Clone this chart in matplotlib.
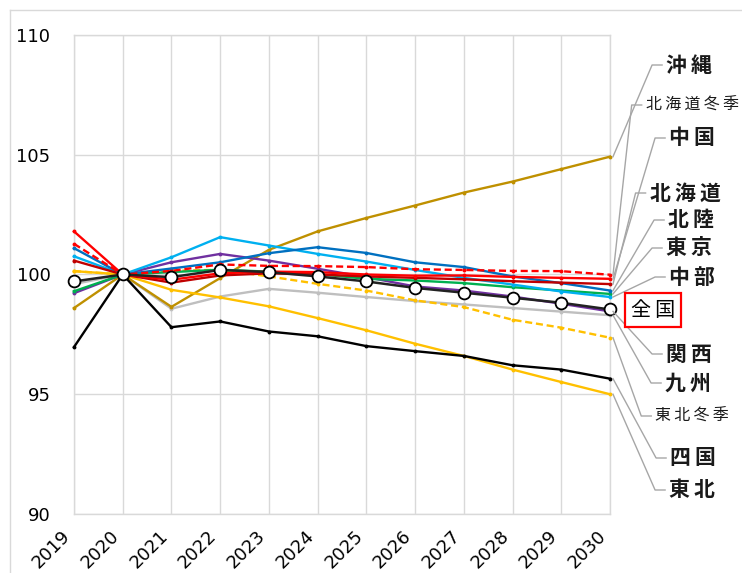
import matplotlib
matplotlib.use('Agg')
import matplotlib.pyplot as plt
from matplotlib.lines import Line2D

plt.rcParams['font.family'] = ['DejaVu Sans']

years = list(range(2019, 2031))

okinawa = [98.6, 100.0, 98.65, 99.85, 101.03, 101.8, 102.36, 102.88, 103.42, 103.88, 104.4, 104.92]
hokkaido_winter = [101.28, 100.0, 100.15, 100.42, 100.36, 100.35, 100.31, 100.22, 100.19, 100.15, 100.14, 99.99]
chugoku = [101.8, 100.0, 99.78, 100.05, 100.12, 100.1, 100.0, 99.95, 99.96, 99.9, 99.86, 99.82]
hokkaido = [100.58, 100.0, 99.66, 99.96, 100.05, 100.0, 99.92, 99.86, 99.8, 99.72, 99.66, 99.6]
hokuriku = [101.1, 100.0, 100.25, 100.51, 100.89, 101.14, 100.9, 100.51, 100.31, 99.92, 99.64, 99.33]
tokyo = [99.3, 100.0, 100.1, 100.2, 100.12, 100.02, 99.82, 99.75, 99.64, 99.47, 99.33, 99.19]
chubu = [100.76, 100.0, 100.72, 101.56, 101.21, 100.86, 100.54, 100.19, 99.86, 99.58, 99.29, 99.06]
zenkoku = [99.71, 100.0, 99.89, 100.19, 100.1, 99.92, 99.71, 99.44, 99.24, 99.03, 98.82, 98.54]
kansai = [99.22, 100.0, 100.51, 100.86, 100.58, 100.24, 99.89, 99.5, 99.33, 99.08, 98.78, 98.46]
kyushu = [99.6, 100.0, 98.57, 99.08, 99.4, 99.24, 99.06, 98.89, 98.75, 98.6, 98.45, 98.3]
tohoku_winter = [100.14, 100.0, 100.15, 100.2, 99.92, 99.61, 99.33, 98.92, 98.64, 98.11, 97.78, 97.36]
shikoku = [96.97, 100.0, 97.8, 98.04, 97.62, 97.42, 97.01, 96.8, 96.6, 96.21, 96.03, 95.65]
tohoku = [100.14, 100.0, 99.36, 99.04, 98.67, 98.18, 97.67, 97.11, 96.6, 96.03, 95.51, 95.0]

y_ticks = [90, 95, 100, 105, 110]

series = [
    ('九州', kyushu, '#BFBFBF', '-'),
    ('沖縄', okinawa, '#BF9000', '-'),
    ('東北', tohoku, '#FFC000', '-'),
    ('東北冬季', tohoku_winter, '#FFC000', '--'),
    ('四国', shikoku, '#000000', '-'),
    ('関西', kansai, '#7030A0', '-'),
    ('東京', tokyo, '#00B050', '-'),
    ('中部', chubu, '#00B0F0', '-'),
    ('北陸', hokuriku, '#0070C0', '-'),
    ('北海道', hokkaido, '#C00000', '-'),
    ('中国', chugoku, '#FF0000', '-'),
    ('北海道冬季', hokkaido_winter, '#FF0000', '--'),
]
data_by_name = {n: v for n, v, c, s in series}
data_by_name['全国'] = zenkoku

W, H = 742, 573
fig = plt.figure(figsize=(W / 100, H / 100), dpi=100)
L, R, T, B = 74, 610, 35, 514
ax = fig.add_axes([L / W, 1 - B / H, (R - L) / W, (B - T) / H])

for name, vals, col, ls in series:
    ax.plot(years, vals, color=col, ls=ls, lw=1.7, marker='o', markersize=2.8,
            markeredgewidth=0, clip_on=False, zorder=3,
            dashes=(3, 1.6) if ls == '--' else (None, None))
ax.plot(years, zenkoku, color='#222222', lw=1.8, marker='o', markersize=8.5,
        markerfacecolor='white', markeredgecolor='black', markeredgewidth=1.3,
        clip_on=False, zorder=5)

ax.set_xlim(2019, 2030)
ax.set_ylim(90, 110)
ax.set_yticks(y_ticks)
ax.set_xticks(years)
ax.set_xticklabels([str(y) for y in years], rotation=45, ha='right', va='top',
                   rotation_mode='default')
ax.tick_params(axis='y', length=0, pad=17, labelsize=13)
ax.tick_params(axis='x', length=0, pad=9, labelsize=13)
ax.grid(True, color='#D9D9D9', lw=1.0)
ax.set_axisbelow(True)
for sp in ax.spines.values():
    sp.set_color('#D9D9D9')
    sp.set_linewidth(1.0)

# outer frame
fig.add_artist(Line2D([10 / W, 10 / W], [0, 1 - 10 / H], color='#D9D9D9', lw=1.0))
fig.add_artist(Line2D([10 / W, 1], [1 - 10 / H, 1 - 10 / H], color='#D9D9D9', lw=1.0))

def fpx(x, y):
    return x / W, 1 - y / H

inv = fig.transFigure.inverted()

labels = [
    ('沖縄', 65, 689, 15),
    ('北海道冬季', 105, 692, 11.5),
    ('中国', 138, 692, 15),
    ('北海道', 193, 685, 15),
    ('北陸', 220, 691, 15),
    ('東京', 248, 689, 15),
    ('中部', 277, 692, 15),
    ('関西', 354, 689, 15),
    ('九州', 383, 688, 15),
    ('東北冬季', 416, 692, 11.5),
    ('四国', 458, 693, 15),
    ('東北', 490, 692, 15),
]
jp = ['Noto Sans CJK JP', 'DejaVu Sans']
SP = '\u2009'
for name, ypx, xc, fs in labels:
    bold = fs > 13
    fig.text(*fpx(xc, ypx), SP.join(name), ha='center', va='center', fontsize=fs,
             family=jp, fontweight='bold' if bold else 'normal', color='#1a1a1a')
    em = fs * 100 / 72
    wpx = len(name) * em + (len(name) - 1) * 0.2 * em
    left = xc - wpx / 2
    ex, ey = ax.transData.transform((2030, data_by_name[name][-1]))
    sx, sy = inv.transform((ex + 3, ey))
    x1, y1 = fpx(left - 14, ypx)
    x2, y2 = fpx(left - 4, ypx)
    fig.add_artist(Line2D([sx, x1, x2], [sy, y1, y2], color='#A6A6A6', lw=1.0))

fig.text(*fpx(653, 310), SP.join('全国'), ha='center', va='center', fontsize=14.5,
         family=jp, color='black',
         bbox=dict(boxstyle='square,pad=0.3', facecolor='white',
                   edgecolor='#FF0000', linewidth=1.6))

fig.savefig('out.png', dpi=100)
